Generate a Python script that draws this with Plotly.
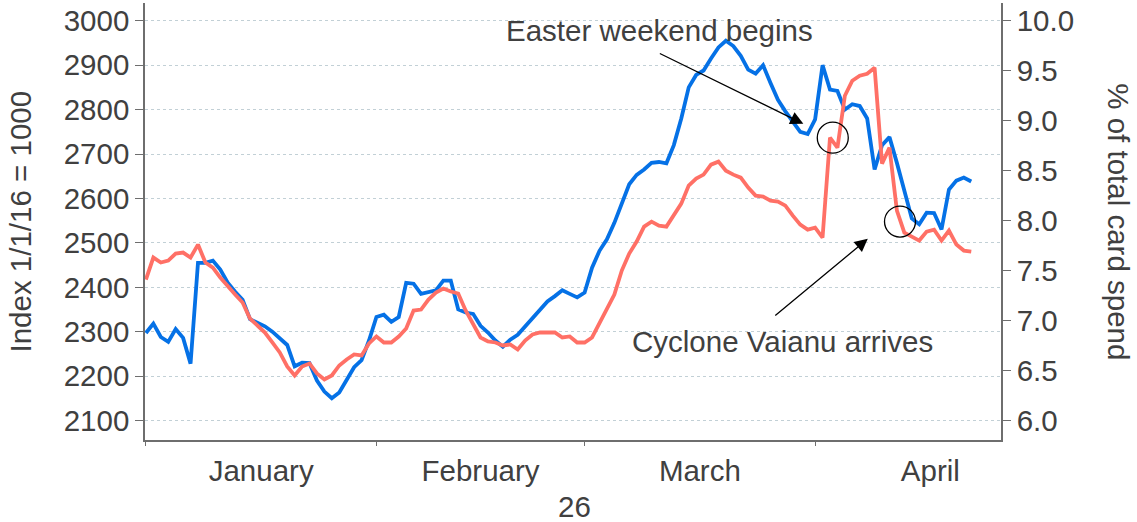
import pandas as pd
import plotly.graph_objects as go

# daily series, 1 Jan to 22 Apr
dates = pd.date_range("2017-01-01", periods=112, freq="D")

index_values = [
    2297, 2318, 2288, 2277, 2306, 2286, 2228, 2455, 2455, 2460,
    2440, 2410, 2390, 2372, 2328, 2320, 2312, 2300, 2285, 2270,
    2222, 2230, 2229, 2190, 2165, 2150, 2163, 2190, 2220, 2236,
    2280, 2333, 2338, 2322, 2333, 2410, 2408, 2385, 2390, 2393,
    2415, 2415, 2350, 2343, 2340, 2313, 2298, 2280, 2266, 2282,
    2293, 2312, 2332, 2350, 2368, 2380, 2393, 2385, 2377, 2388,
    2444, 2482, 2508, 2545, 2590, 2632, 2653, 2665, 2680, 2682,
    2679, 2720, 2780, 2850, 2878, 2888, 2915, 2940, 2955, 2943,
    2921, 2890, 2881, 2900, 2860, 2822, 2796, 2774, 2750, 2745,
    2778, 2900, 2845, 2842, 2800, 2812, 2808, 2780, 2665, 2720,
    2738, 2680, 2615, 2555, 2542, 2568, 2567, 2530, 2620, 2640,
    2647, 2638,
]

share_values = [
    7.41, 7.63, 7.58, 7.60, 7.67, 7.68, 7.63, 7.76, 7.58, 7.53,
    7.43, 7.34, 7.26, 7.18, 7.02, 6.95, 6.88, 6.78, 6.68, 6.54,
    6.45, 6.54, 6.57, 6.47, 6.41, 6.45, 6.55, 6.61, 6.66, 6.65,
    6.77, 6.84, 6.78, 6.78, 6.84, 6.92, 7.10, 7.11, 7.21, 7.28,
    7.32, 7.29, 7.27, 7.10, 6.97, 6.83, 6.79, 6.78, 6.75, 6.76,
    6.71, 6.80, 6.86, 6.88, 6.88, 6.88, 6.83, 6.84, 6.78, 6.78,
    6.83, 6.97, 7.11, 7.26, 7.50, 7.67, 7.79, 7.94, 7.99, 7.95,
    7.94, 8.06, 8.17, 8.35, 8.42, 8.46, 8.56, 8.59, 8.50, 8.46,
    8.43, 8.33, 8.25, 8.24, 8.20, 8.19, 8.15, 8.05, 7.96, 7.91,
    7.93, 7.83, 8.83, 8.73, 9.25, 9.40, 9.45, 9.47, 9.53, 8.57,
    8.73, 8.10, 7.88, 7.84, 7.80, 7.89, 7.91, 7.80, 7.90, 7.76,
    7.70, 7.69,
]

left_ticks = [2100, 2200, 2300, 2400, 2500, 2600, 2700, 2800, 2900, 3000]
right_ticks = [6.0, 6.5, 7.0, 7.5, 8.0, 8.5, 9.0, 9.5, 10.0]

FONT = "Liberation Sans, Arial, sans-serif"
TXT = "#404040"
AXIS = "#6e6e6e"

fig = go.Figure()
fig.add_trace(go.Scatter(x=dates, y=share_values, yaxis="y2", mode="lines",
                         line=dict(color="#ff7066", width=3.8), name="% of total"))
fig.add_trace(go.Scatter(x=dates, y=index_values, mode="lines",
                         line=dict(color="#0571e6", width=3.8), name="Index"))

fig.update_layout(
    width=1137, height=522,
    margin=dict(l=145, r=136, t=3, b=82),
    paper_bgcolor="white", plot_bgcolor="white",
    showlegend=False,
    font=dict(family=FONT, size=29.5, color=TXT),
    xaxis=dict(
        range=["2016-12-31 21:00", "2017-04-26"],
        tick0="2017-01-01", dtick="M1", tickformat="%B",
        ticklabelmode="period",
        ticks="outside", ticklen=4, tickcolor=AXIS,
        showline=True, linecolor=AXIS, linewidth=1.5,
        showgrid=False, zeroline=False,
    ),
    yaxis=dict(
        range=[2056, 3040],
        tickvals=left_ticks,
        ticks="outside", ticklen=8, tickcolor=AXIS,
        showline=True, linecolor=AXIS, linewidth=1.5,
        showgrid=True, gridcolor="#c2d0d6", griddash="dot", gridwidth=1,
        zeroline=False,
    ),
    yaxis2=dict(
        range=[5.804, 10.178],
        tickvals=right_ticks, tickformat=".1f",
        overlaying="y", side="right",
        ticks="outside", ticklen=8, tickcolor=AXIS,
        showline=True, linecolor=AXIS, linewidth=1.5,
        showgrid=False, zeroline=False,
    ),
)

# axis titles
fig.add_annotation(text="Index 1/1/16 = 1000", xref="paper", yref="paper",
                   x=-0.146, y=0.5, textangle=-90, showarrow=False,
                   xanchor="center", yanchor="middle")
fig.add_annotation(text="% of total card spend", xref="paper", yref="paper",
                   x=1.137, y=0.5, textangle=90, showarrow=False,
                   xanchor="center", yanchor="middle")
fig.add_annotation(text="26", xref="paper", yref="paper",
                   x=0.502, y=-0.153, showarrow=False,
                   xanchor="center", yanchor="middle")

# event labels
fig.add_annotation(text="Easter weekend begins", xref="paper", yref="paper",
                   x=0.601, y=0.936, showarrow=False,
                   xanchor="center", yanchor="middle")
fig.add_annotation(text="Cyclone Vaianu arrives", xref="paper", yref="paper",
                   x=0.745, y=0.2265, showarrow=False,
                   xanchor="center", yanchor="middle")

# arrows
fig.add_annotation(text="", x="2017-03-30 10:00", y=2768, xref="x", yref="y",
                   ax=-145, ay=-71, showarrow=True, arrowhead=2,
                   arrowsize=2, arrowwidth=1.3, arrowcolor="black")
fig.add_annotation(text="", x="2017-04-08 02:00", y=2509, xref="x", yref="y",
                   ax=-94, ay=78, showarrow=True, arrowhead=2,
                   arrowsize=2, arrowwidth=1.3, arrowcolor="black")

# circles
for cx, cy in [("2017-04-03 09:00", 8.83), ("2017-04-12 10:00", 7.99)]:
    fig.add_shape(type="circle", xref="x", yref="y2",
                  xsizemode="pixel", ysizemode="pixel",
                  xanchor=cx, yanchor=cy,
                  x0=-15.5, x1=15.5, y0=-15.5, y1=15.5,
                  line=dict(color="black", width=1.3))

# page body has an 8px default margin; drop it so the figure sits at 0,0
fig.write_html("out.html", config={"displayModeBar": False},
               post_script="document.body.style.margin='0';")
